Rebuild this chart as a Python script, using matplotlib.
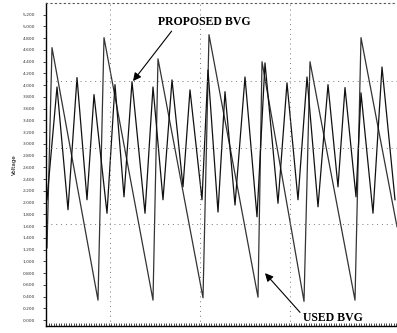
import matplotlib
matplotlib.use('Agg')
import matplotlib.pyplot as plt
import numpy as np

# time axis (arbitrary units) and values
used_t = [0.1, 0.6, 5.2, 5.8, 10.7, 11.2, 15.7, 16.3, 21.2, 21.6, 25.8, 26.4, 30.9, 31.5, 35.1]
used_v = [1.23, 4.64, 0.34, 4.81, 0.34, 4.45, 0.38, 4.86, 0.39, 4.40, 0.32, 4.40, 0.34, 4.81, 1.59]

prop_t = [0.1, 1.1, 2.2, 3.1, 4.1, 4.8, 6.1, 6.9, 7.8, 8.6, 9.9, 10.7, 11.7, 12.6, 13.7, 14.4,
          15.6, 16.2, 17.2, 17.9, 18.9, 19.9, 21.1, 21.9, 23.2, 24.1, 25.2, 26.1, 27.2, 28.2,
          29.2, 29.9, 31.0, 31.5, 32.7, 33.6, 34.9]
prop_v = [2.05, 3.97, 1.88, 4.13, 2.05, 3.84, 1.82, 4.01, 2.10, 4.06, 1.82, 3.97, 2.05, 4.09,
          2.27, 3.92, 2.05, 4.26, 1.84, 3.89, 1.96, 4.14, 1.76, 4.38, 1.99, 4.04, 2.05, 4.14,
          1.93, 4.01, 2.27, 3.96, 2.10, 3.87, 1.82, 4.31, 2.05]

y_ticks = np.arange(0, 5.21, 0.2)
grid_y = [4.07, 2.93, 1.64]
grid_t = [6.4, 15.4, 24.4]

fig = plt.figure(figsize=(3.97, 3.33), dpi=100)
ax = fig.add_axes([46 / 397, 7 / 333, 1 - 46 / 397, 1 - 10 / 333])

ax.plot(used_t, used_v, color='#333333', lw=0.9)
ax.plot(prop_t, prop_v, color='#111111', lw=0.9)

for g in grid_y:
    ax.axhline(g, color='#777777', ls=(0, (1, 4)), lw=0.7)
for g in grid_t:
    ax.axvline(g, color='#777777', ls=(0, (1, 4)), lw=0.7)

ax.set_xlim(0, 35.1)
ax.set_ylim(-0.10, 5.40)
ax.set_yticks(y_ticks)
ax.set_yticklabels(['%.3f' % v for v in y_ticks], fontsize=3.2, color='#333333')
ax.set_xticks(np.arange(0, 35.1, 1))
ax.set_xticks(np.arange(0, 35.1, 0.25), minor=True)
ax.set_xticklabels([])
ax.tick_params(axis='y', length=2, width=0.5, pad=6)
ax.tick_params(axis='x', which='both', length=2, width=0.5, direction='in')
ax.set_ylabel('Voltage', fontsize=4, labelpad=4)

for s in ['right']:
    ax.spines[s].set_visible(False)
ax.spines['top'].set_linestyle((0, (1, 3)))
ax.spines['top'].set_color('#555555')
ax.spines['left'].set_linewidth(1.0)
ax.spines['bottom'].set_linewidth(1.0)

ax.annotate('PROPOSED BVG', xy=(8.7, 4.07), xytext=(11.2, 5.07),
            fontsize=8.5, fontweight='bold', family='Liberation Serif',
            ha='left', va='center',
            arrowprops=dict(arrowstyle='-|>', color='black', lw=0.8, mutation_scale=12,
                            shrinkA=0, shrinkB=0, relpos=(0.17, 0.0)))
ax.annotate('USED BVG', xy=(21.9, 0.80), xytext=(25.7, 0.03),
            fontsize=8.5, fontweight='bold', family='Liberation Serif',
            ha='left', va='center',
            arrowprops=dict(arrowstyle='-|>', color='black', lw=0.8, mutation_scale=12,
                            shrinkA=0, shrinkB=0, relpos=(-0.05, 1.0)))

fig.savefig('out.png', dpi=100)
